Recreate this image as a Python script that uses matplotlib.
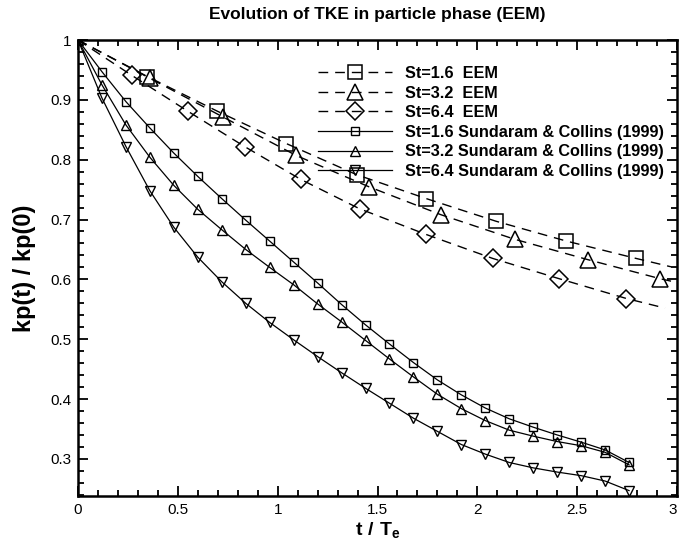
import matplotlib
matplotlib.use('Agg')
import matplotlib.pyplot as plt
from matplotlib.ticker import FixedLocator, FixedFormatter, MultipleLocator

plt.rcParams['font.family'] = ['Liberation Sans', 'DejaVu Sans']
plt.rcParams['mathtext.fontset'] = 'custom'
plt.rcParams['mathtext.bf'] = 'Liberation Sans:bold'
plt.rcParams['mathtext.rm'] = 'Liberation Sans'

# Sundaram & Collins (1999) curves
t_sc = [0.00, 0.12, 0.24, 0.36, 0.48, 0.60, 0.72, 0.84, 0.96, 1.08, 1.20, 1.32,
        1.44, 1.56, 1.68, 1.80, 1.92, 2.04, 2.16, 2.28, 2.40, 2.52, 2.64, 2.76]
sc16 = [1.000, 0.947, 0.897, 0.853, 0.811, 0.772, 0.735, 0.699, 0.664, 0.629, 0.594, 0.558,
        0.524, 0.492, 0.461, 0.432, 0.407, 0.385, 0.367, 0.353, 0.340, 0.328, 0.315, 0.294]
sc32 = [1.000, 0.925, 0.858, 0.804, 0.757, 0.717, 0.683, 0.650, 0.620, 0.591, 0.559, 0.529,
        0.498, 0.467, 0.437, 0.408, 0.384, 0.364, 0.348, 0.338, 0.329, 0.322, 0.311, 0.290]
sc64 = [1.000, 0.903, 0.822, 0.748, 0.687, 0.637, 0.596, 0.560, 0.528, 0.499, 0.471, 0.444,
        0.418, 0.393, 0.368, 0.346, 0.324, 0.308, 0.294, 0.285, 0.278, 0.272, 0.263, 0.247]

# EEM curves (first and last point are line ends, markers in between)
t_eem16 = [0.0, 0.347, 0.698, 1.043, 1.395, 1.744, 2.095, 2.446, 2.795, 2.97]
eem16 = [1.0, 0.939, 0.881, 0.827, 0.775, 0.735, 0.697, 0.664, 0.635, 0.621]
t_eem32 = [0.0, 0.360, 0.728, 1.093, 1.455, 1.818, 2.187, 2.553, 2.917, 2.97]
eem32 = [1.0, 0.936, 0.871, 0.807, 0.755, 0.708, 0.667, 0.633, 0.601, 0.597]
t_eem64 = [0.0, 0.269, 0.550, 0.834, 1.116, 1.410, 1.744, 2.077, 2.411, 2.747, 2.94]
eem64 = [1.0, 0.941, 0.881, 0.822, 0.767, 0.718, 0.675, 0.635, 0.601, 0.568, 0.552]

xticks = [0, 0.5, 1, 1.5, 2, 2.5, 3]
xlabels = ['0', '0.5', '1', '1.5', '2', '2.5', '3']
yticks = [0.3, 0.4, 0.5, 0.6, 0.7, 0.8, 0.9, 1.0]
ylabels = ['0.3', '0.4', '0.5', '0.6', '0.7', '0.8', '0.9', '1']

fig = plt.figure(figsize=(6.79, 5.42), dpi=100)
ax = fig.add_axes([78/679, 1-496/542, 599/679, 456/542])

dash = dict(color='black', lw=1.0, dashes=(7, 5), markerfacecolor='none',
            markeredgecolor='black', markeredgewidth=1.1, markevery=slice(1, -1))
ax.plot(t_eem16, eem16, marker='s', ms=10, label='St=1.6  EEM', **dash)
ax.plot(t_eem32, eem32, marker='^', ms=11, label='St=3.2  EEM', **dash)
ax.plot(t_eem64, eem64, marker='D', ms=9, label='St=6.4  EEM', **dash)

solid = dict(color='black', lw=0.9, markerfacecolor='none',
             markeredgecolor='black', markeredgewidth=1.0)
ax.plot(t_sc, sc16, marker='s', ms=6, label='St=1.6 Sundaram & Collins (1999)', **solid)
ax.plot(t_sc, sc32, marker='^', ms=6.5, label='St=3.2 Sundaram & Collins (1999)', **solid)
ax.plot(t_sc, sc64, marker='v', ms=6.5, label='St=6.4 Sundaram & Collins (1999)', **solid)

ax.set_xlim(0, 3)
ax.set_ylim(0.238, 1.0)
ax.xaxis.set_major_locator(FixedLocator(xticks))
ax.xaxis.set_major_formatter(FixedFormatter(xlabels))
ax.yaxis.set_major_locator(FixedLocator(yticks))
ax.yaxis.set_major_formatter(FixedFormatter(ylabels))
ax.xaxis.set_minor_locator(MultipleLocator(0.1))
ax.yaxis.set_minor_locator(MultipleLocator(0.02))
ax.tick_params(which='both', direction='in', top=True, right=True, width=1.3,
               labelsize=11, pad=5)
ax.tick_params(which='major', length=7)
ax.tick_params(which='minor', length=4)
for s in ax.spines.values():
    s.set_linewidth(1.8)

ax.set_xlabel(r'$\mathbf{t\ /\ T_e}$', fontsize=14, labelpad=2)
ax.set_ylabel('kp(t) / kp(0)', fontsize=17, fontweight='bold', labelpad=10)
ax.set_title('Evolution of TKE in particle phase (EEM)', fontsize=12.5,
             fontweight='bold', pad=15)

ax.legend(loc='upper left', bbox_to_anchor=(0.40, 0.943), frameon=False,
          prop={'weight': 'bold', 'size': 11.7}, numpoints=1,
          handlelength=4.6, handletextpad=0.8, labelspacing=0.28,
          borderpad=0, borderaxespad=0)

fig.canvas.draw()
for lbl in ax.get_xticklabels():
    if lbl.get_text() == '3':
        lbl.set_ha('right')

fig.savefig('out.png', dpi=100)
